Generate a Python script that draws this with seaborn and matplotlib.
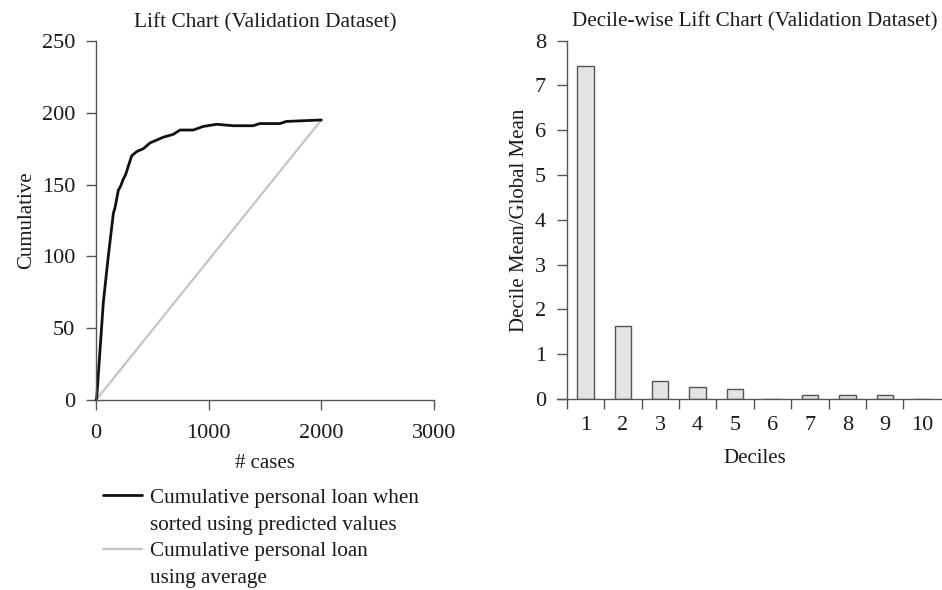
import matplotlib
matplotlib.use("Agg")
import matplotlib.pyplot as plt
import seaborn as sns
import pandas as pd
from matplotlib.lines import Line2D

# Cumulative number of personal-loan acceptors, records sorted by predicted probability
cases = [0, 6, 65, 109, 154, 169, 198, 219, 243, 257, 272, 287, 317, 331, 361, 420,
         479, 508, 597, 686, 745, 863, 952, 1070, 1218, 1395, 1454, 1632, 1691, 2000]
cumulative = [0, 1, 68, 100, 130, 134, 146, 149, 154, 156, 159, 163, 170, 171, 173, 175,
              179, 180, 183, 185, 188, 188, 190.5, 192, 191, 191, 192.5, 192.5, 194, 195]

# Baseline: cumulative acceptors when records are taken in random order
baseline_cases = [0, 2000]
baseline_cumulative = [0, 195]

# Decile-wise lift (decile mean / global mean)
deciles = [1, 2, 3, 4, 5, 6, 7, 8, 9, 10]
decile_lift = [7.44, 1.64, 0.41, 0.27, 0.23, 0.0, 0.09, 0.09, 0.09, 0.0]

left_ticks_x = [0, 1000, 2000, 3000]
left_ticks_y = [0, 50, 100, 150, 200, 250]
right_ticks_y = [0, 1, 2, 3, 4, 5, 6, 7, 8]

sns.set_theme(style="ticks")
plt.rcParams["font.family"] = ["Liberation Serif", "DejaVu Serif"]
plt.rcParams["axes.edgecolor"] = "#555555"
plt.rcParams["xtick.color"] = "#555555"
plt.rcParams["ytick.color"] = "#555555"
plt.rcParams["xtick.labelcolor"] = "#1a1a1a"
plt.rcParams["ytick.labelcolor"] = "#1a1a1a"
plt.rcParams["text.color"] = "#1a1a1a"
plt.rcParams["axes.labelcolor"] = "#1a1a1a"

FS = 15
TICK_FS = 16

fig = plt.figure(figsize=(9.42, 5.90), dpi=100)
ax1 = fig.add_axes([96 / 942, 190 / 590, 338 / 942, 359 / 590])
ax2 = fig.add_axes([566.7 / 942, 191 / 590, 375.3 / 942, 358.3 / 590])

# ---- cumulative lift chart ----
lift_df = pd.DataFrame({"cases": cases, "cumulative": cumulative})
base_df = pd.DataFrame({"cases": baseline_cases, "cumulative": baseline_cumulative})
sns.lineplot(data=base_df, x="cases", y="cumulative", ax=ax1, color="#c4c4c4",
             linewidth=1.6, estimator=None, sort=False, clip_on=False)
sns.lineplot(data=lift_df, x="cases", y="cumulative", ax=ax1, color="#111111",
             linewidth=2.0, estimator=None, sort=False, clip_on=False)
ax1.set_xlim(0, 3000)
ax1.set_ylim(0, 250)
ax1.set_xticks(left_ticks_x)
ax1.set_yticks(left_ticks_y)
ax1.set_xlabel("# cases", fontsize=FS, labelpad=8)
ax1.set_ylabel("Cumulative", fontsize=FS, labelpad=4)
ax1.set_title("Lift Chart (Validation Dataset)", fontsize=15.4, pad=10)
sns.despine(ax=ax1)
ax1.tick_params(axis="both", labelsize=TICK_FS, length=7, width=1.0)
ax1.tick_params(axis="x", pad=10)
ax1.tick_params(axis="y", pad=8)
for s in ax1.spines.values():
    s.set_linewidth(1.0)

# ---- decile-wise lift chart ----
dec_df = pd.DataFrame({"decile": deciles, "lift": decile_lift})
sns.barplot(data=dec_df, x="decile", y="lift", ax=ax2, native_scale=True,
            width=0.44, color="#e4e4e4", edgecolor="#555555", linewidth=1.0,
            saturation=1)
ax2.set_xlim(0.5, 10.53)
ax2.set_ylim(0, 8)
ax2.set_yticks(right_ticks_y)
ax2.set_xticks([d - 0.5 for d in deciles])
ax2.set_xticklabels([])
ax2.set_xticks(deciles, minor=True)
ax2.set_xticklabels([str(d) for d in deciles], minor=True)
ax2.tick_params(axis="x", which="minor", length=0, labelsize=TICK_FS, pad=12)
ax2.tick_params(axis="x", which="major", length=7, width=1.0)
ax2.tick_params(axis="y", labelsize=TICK_FS, length=7, width=1.0, pad=8)
ax2.set_xlabel("Deciles", fontsize=FS, labelpad=10)
ax2.set_ylabel("Decile Mean/Global Mean", fontsize=FS, labelpad=4)
ax2.set_title("Decile-wise Lift Chart (Validation Dataset)", fontsize=15.2, pad=10)
sns.despine(ax=ax2)
ax2.spines["bottom"].set_bounds(0.25, 10.6)
ax2.spines["left"].set_bounds(0, 8)
for s in ax2.spines.values():
    s.set_linewidth(1.0)

# ---- legend below the lift chart ----
handles = [
    Line2D([], [], color="#111111", linewidth=2.0),
    Line2D([], [], color="none"),
    Line2D([], [], color="#c4c4c4", linewidth=1.6),
    Line2D([], [], color="none"),
]
labels = [
    "Cumulative personal loan when",
    "sorted using predicted values",
    "Cumulative personal loan",
    "using average",
]
fig.legend(handles, labels, loc="upper left", bbox_to_anchor=(103 / 942, 1 - 488 / 590),
           frameon=False, fontsize=15.2, handlelength=1.85, handletextpad=0.4,
           labelspacing=0.33, borderpad=0, borderaxespad=0)

fig.savefig("out.png", dpi=100)
